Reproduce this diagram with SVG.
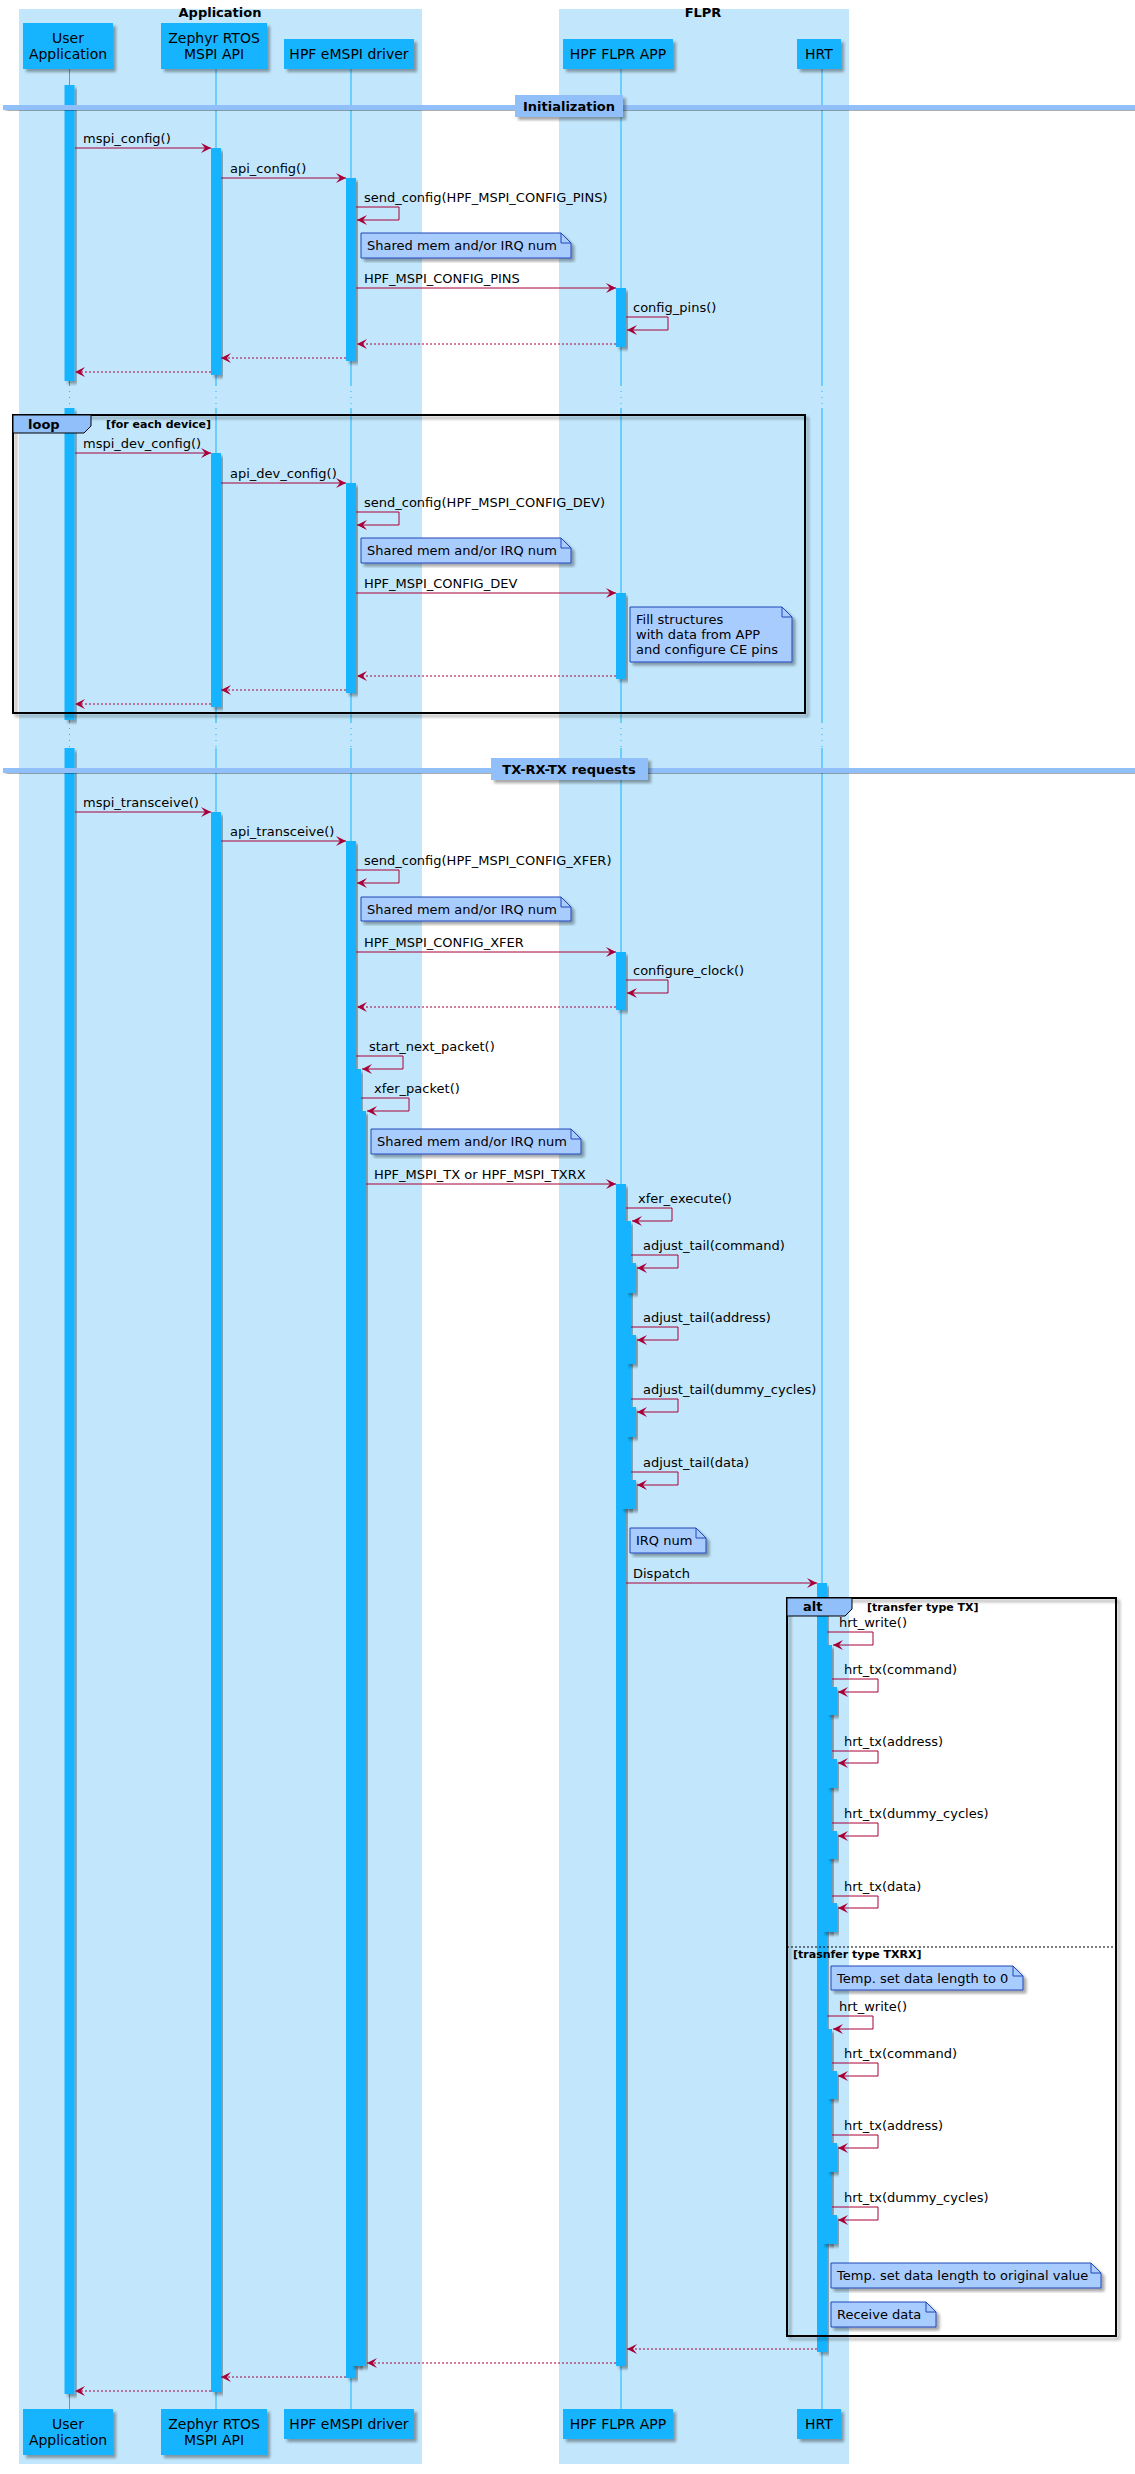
<svg xmlns="http://www.w3.org/2000/svg" width="1135" height="2474" viewBox="0 0 1135 2474">
<style>
text{font-family:"DejaVu Sans",sans-serif;font-size:13px;fill:#000}
.pt{font-size:14px;text-anchor:middle}
.bt{font-weight:bold;text-anchor:middle}
.g{font-size:11px;font-weight:bold}
.box{fill:#C2E7FC}
.part{fill:#13B4FF}
.act{fill:#13B4FF;filter:url(#sh)}
.ll{stroke:#13B4FF;stroke-width:1}
.lld{stroke:#13B4FF;stroke-width:1;stroke-dasharray:1,5}
.m{stroke:#A80036;stroke-width:1;fill:none;marker-end:url(#ah)}
.r{stroke:#A80036;stroke-width:1;fill:none;stroke-dasharray:2,2;marker-end:url(#ah)}
.note{fill:#A9CCFF;stroke:#2146B8;stroke-width:1;filter:url(#sh)}
.div{fill:#90BFF9}
.frame{fill:none;stroke:#000;stroke-width:2;filter:url(#sh)}
</style>
<defs>
<filter id="sh" x="-20%" y="-20%" width="140%" height="140%"><feDropShadow dx="3" dy="3" stdDeviation="1.5" flood-color="#000" flood-opacity="0.35"/></filter>
<marker id="ah" markerUnits="userSpaceOnUse" markerWidth="11" markerHeight="10" refX="10" refY="5" orient="auto"><path d="M0,0 L10,5 L0,10 L4,5 Z" fill="#A80036"/></marker>
</defs>
<rect width="1135" height="2474" fill="#fff"/>
<g id="box-application"><rect class="box" x="19" y="9" width="403" height="2455"/><text class="bt" x="220" y="17">Application</text></g>
<g id="box-flpr"><rect class="box" x="559" y="9" width="290" height="2455"/><text class="bt" x="703" y="17">FLPR</text></g>

<g id="lifelines">
<g id="ll-user"><line class="ll" x1="69.5" y1="69" x2="69.5" y2="385"/><line class="lld" x1="69.5" y1="385" x2="69.5" y2="408"/><line class="ll" x1="69.5" y1="408" x2="69.5" y2="722"/><line class="lld" x1="69.5" y1="722" x2="69.5" y2="748"/><line class="ll" x1="69.5" y1="748" x2="69.5" y2="2409"/></g>
<g id="ll-zephyr"><line class="ll" x1="216" y1="69" x2="216" y2="385"/><line class="lld" x1="216" y1="385" x2="216" y2="408"/><line class="ll" x1="216" y1="408" x2="216" y2="722"/><line class="lld" x1="216" y1="722" x2="216" y2="748"/><line class="ll" x1="216" y1="748" x2="216" y2="2409"/></g>
<g id="ll-driver"><line class="ll" x1="351" y1="69" x2="351" y2="385"/><line class="lld" x1="351" y1="385" x2="351" y2="408"/><line class="ll" x1="351" y1="408" x2="351" y2="722"/><line class="lld" x1="351" y1="722" x2="351" y2="748"/><line class="ll" x1="351" y1="748" x2="351" y2="2409"/></g>
<g id="ll-flpr"><line class="ll" x1="621" y1="69" x2="621" y2="385"/><line class="lld" x1="621" y1="385" x2="621" y2="408"/><line class="ll" x1="621" y1="408" x2="621" y2="722"/><line class="lld" x1="621" y1="722" x2="621" y2="748"/><line class="ll" x1="621" y1="748" x2="621" y2="2409"/></g>
<g id="ll-hrt"><line class="ll" x1="822" y1="69" x2="822" y2="385"/><line class="lld" x1="822" y1="385" x2="822" y2="408"/><line class="ll" x1="822" y1="408" x2="822" y2="722"/><line class="lld" x1="822" y1="722" x2="822" y2="748"/><line class="ll" x1="822" y1="748" x2="822" y2="2409"/></g>
</g>

<g id="user-application"><rect class="part" x="23" y="23" width="90" height="46" filter="url(#sh)"/><text class="pt" x="68" y="43">User</text><text class="pt" x="68" y="59">Application</text>
<rect class="part" x="23" y="2409" width="90" height="46" filter="url(#sh)"/><text class="pt" x="68" y="2429">User</text><text class="pt" x="68" y="2445">Application</text></g>
<g id="zephyr-mspi-api"><rect class="part" x="161" y="23" width="106" height="46" filter="url(#sh)"/><text class="pt" x="214" y="43">Zephyr RTOS</text><text class="pt" x="214" y="59">MSPI API</text>
<rect class="part" x="161" y="2409" width="106" height="46" filter="url(#sh)"/><text class="pt" x="214" y="2429">Zephyr RTOS</text><text class="pt" x="214" y="2445">MSPI API</text></g>
<g id="hpf-emspi-driver"><rect class="part" x="284" y="39" width="130" height="30" filter="url(#sh)"/><text class="pt" x="349" y="59">HPF eMSPI driver</text>
<rect class="part" x="284" y="2409" width="130" height="30" filter="url(#sh)"/><text class="pt" x="349" y="2429">HPF eMSPI driver</text></g>
<g id="hpf-flpr-app"><rect class="part" x="563" y="39" width="110" height="30" filter="url(#sh)"/><text class="pt" x="618" y="59">HPF FLPR APP</text>
<rect class="part" x="563" y="2409" width="110" height="30" filter="url(#sh)"/><text class="pt" x="618" y="2429">HPF FLPR APP</text></g>
<g id="hrt"><rect class="part" x="797" y="39" width="44" height="30" filter="url(#sh)"/><text class="pt" x="819" y="59">HRT</text>
<rect class="part" x="797" y="2409" width="44" height="30" filter="url(#sh)"/><text class="pt" x="819" y="2429">HRT</text></g>

<g id="activations">
<rect class="act" x="64.5" y="85" width="10" height="296"/>
<rect class="act" x="64.5" y="408" width="10" height="312"/>
<rect class="act" x="64.5" y="748" width="10" height="1646"/>
<rect class="act" x="211" y="148" width="10" height="227"/>
<rect class="act" x="211" y="453" width="10" height="254"/>
<rect class="act" x="211" y="812" width="10" height="1580"/>
<rect class="act" x="346" y="178" width="10" height="183"/>
<rect class="act" x="346" y="483" width="10" height="210"/>
<rect class="act" x="346" y="841" width="10" height="1537"/>
<rect class="act" x="351" y="1069" width="10" height="1297"/>
<rect class="act" x="356" y="1111" width="10" height="1255"/>
<rect class="act" x="616" y="288" width="10" height="59"/>
<rect class="act" x="616" y="593" width="10" height="86"/>
<rect class="act" x="616" y="952" width="10" height="58"/>
<rect class="act" x="616" y="1184" width="10" height="1182"/>
<rect class="act" x="621" y="1221" width="10" height="288"/>
<rect class="act" x="626" y="1263" width="10" height="30"/>
<rect class="act" x="626" y="1335" width="10" height="29"/>
<rect class="act" x="626" y="1407" width="10" height="30"/>
<rect class="act" x="626" y="1480" width="10" height="29"/>
<rect class="act" x="817" y="1583" width="10" height="769"/>
<rect class="act" x="822" y="1645" width="10" height="287"/>
<rect class="act" x="827" y="1687" width="10" height="28"/>
<rect class="act" x="827" y="1759" width="10" height="29"/>
<rect class="act" x="827" y="1831" width="10" height="28"/>
<rect class="act" x="827" y="1903" width="10" height="29"/>
<rect class="act" x="822" y="2029" width="10" height="215"/>
<rect class="act" x="827" y="2071" width="10" height="28"/>
<rect class="act" x="827" y="2143" width="10" height="29"/>
<rect class="act" x="827" y="2215" width="10" height="29"/>
</g>

<g id="divider-init"><rect class="div" x="3" y="105" width="1132" height="5" filter="url(#sh)"/><rect class="div" x="515" y="95" width="108" height="22" filter="url(#sh)"/><text x="569" y="111" class="bt">Initialization</text></g>
<g id="divider-tx"><rect class="div" x="3" y="768" width="1132" height="5" filter="url(#sh)"/><rect class="div" x="491" y="758" width="157" height="22" filter="url(#sh)"/><text x="569" y="774" class="bt">TX-RX-TX requests</text></g>

<g id="loop-frame"><rect class="frame" x="13" y="415" width="792" height="298"/><path d="M13,415 H91 V426 L84,433 H13 Z" fill="#90BFF9" stroke="#000" stroke-width="1"/><text x="28" y="429" style="font-weight:bold">loop</text><text class="g" x="106" y="428">[for each device]</text></g>
<g id="alt-frame"><rect class="frame" x="787" y="1598" width="329" height="738"/><path d="M787,1598 H852 V1609 L845,1616 H787 Z" fill="#90BFF9" stroke="#000" stroke-width="1"/><text x="803" y="1611" style="font-weight:bold">alt</text><text class="g" x="867" y="1611">[transfer type TX]</text>
<line x1="787" y1="1947" x2="1116" y2="1947" stroke="#000" stroke-width="1" stroke-dasharray="2,2"/><text class="g" x="793" y="1958">[trasnfer type TXRX]</text></g>

<g id="notes">
<g id="note1"><path class="note" d="M361,233 H561 L571,243 V258 H361 Z"/><path d="M561,233 V243 H571" fill="none" stroke="#2146B8"/><text x="367" y="250">Shared mem and/or IRQ num</text></g>
<g id="note2"><path class="note" d="M361,538 H561 L571,548 V563 H361 Z"/><path d="M561,538 V548 H571" fill="none" stroke="#2146B8"/><text x="367" y="555">Shared mem and/or IRQ num</text></g>
<g id="note3"><path class="note" d="M630,607 H782 L792,617 V662 H630 Z"/><path d="M782,607 V617 H792" fill="none" stroke="#2146B8"/><text x="636" y="624">Fill structures</text><text x="636" y="639">with data from APP</text><text x="636" y="654">and configure CE pins</text></g>
<g id="note4"><path class="note" d="M361,897 H561 L571,907 V921 H361 Z"/><path d="M561,897 V907 H571" fill="none" stroke="#2146B8"/><text x="367" y="914">Shared mem and/or IRQ num</text></g>
<g id="note5"><path class="note" d="M371,1129 H571 L581,1139 V1154 H371 Z"/><path d="M571,1129 V1139 H581" fill="none" stroke="#2146B8"/><text x="377" y="1146">Shared mem and/or IRQ num</text></g>
<g id="note6"><path class="note" d="M630,1528 H696 L706,1538 V1553 H630 Z"/><path d="M696,1528 V1538 H706" fill="none" stroke="#2146B8"/><text x="636" y="1545">IRQ num</text></g>
<g id="note7"><path class="note" d="M831,1966 H1013 L1023,1976 V1990 H831 Z"/><path d="M1013,1966 V1976 H1023" fill="none" stroke="#2146B8"/><text x="837" y="1983">Temp. set data length to 0</text></g>
<g id="note8"><path class="note" d="M831,2263 H1091 L1101,2273 V2288 H831 Z"/><path d="M1091,2263 V2273 H1101" fill="none" stroke="#2146B8"/><text x="837" y="2280">Temp. set data length to original value</text></g>
<g id="note9"><path class="note" d="M831,2302 H926 L936,2312 V2327 H831 Z"/><path d="M926,2302 V2312 H936" fill="none" stroke="#2146B8"/><text x="837" y="2319">Receive data</text></g>
</g>

<g id="connectors">
<path class="m" d="M75,148 H211"/><text x="83" y="143">mspi_config()</text>
<path class="m" d="M221,178 H346"/><text x="230" y="173">api_config()</text>
<path class="m" d="M356,207 H399 V220 H357"/><text x="364" y="202">send_config(HPF_MSPI_CONFIG_PINS)</text>
<path class="m" d="M356,288 H616"/><text x="364" y="283">HPF_MSPI_CONFIG_PINS</text>
<path class="m" d="M626,317 H668 V330 H627"/><text x="633" y="312">config_pins()</text>
<path class="r" d="M616,344 H357"/>
<path class="r" d="M346,358 H221"/>
<path class="r" d="M211,372 H75"/>

<path class="m" d="M75,453 H211"/><text x="83" y="448">mspi_dev_config()</text>
<path class="m" d="M221,483 H346"/><text x="230" y="478">api_dev_config()</text>
<path class="m" d="M356,512 H399 V525 H357"/><text x="364" y="507">send_config(HPF_MSPI_CONFIG_DEV)</text>
<path class="m" d="M356,593 H616"/><text x="364" y="588">HPF_MSPI_CONFIG_DEV</text>
<path class="r" d="M616,676 H357"/>
<path class="r" d="M346,690 H221"/>
<path class="r" d="M211,704 H75"/>

<path class="m" d="M75,812 H211"/><text x="83" y="807">mspi_transceive()</text>
<path class="m" d="M221,841 H346"/><text x="230" y="836">api_transceive()</text>
<path class="m" d="M356,870 H399 V883 H357"/><text x="364" y="865">send_config(HPF_MSPI_CONFIG_XFER)</text>
<path class="m" d="M356,952 H616"/><text x="364" y="947">HPF_MSPI_CONFIG_XFER</text>
<path class="m" d="M626,980 H668 V993 H627"/><text x="633" y="975">configure_clock()</text>
<path class="r" d="M616,1007 H357"/>
<path class="m" d="M356,1056 H403 V1069 H362"/><text x="369" y="1051">start_next_packet()</text>
<path class="m" d="M361,1098 H409 V1111 H367"/><text x="374" y="1093">xfer_packet()</text>
<path class="m" d="M366,1184 H616"/><text x="374" y="1179">HPF_MSPI_TX or HPF_MSPI_TXRX</text>
<path class="m" d="M626,1208 H672 V1221 H632"/><text x="638" y="1203">xfer_execute()</text>
<path class="m" d="M631,1255 H678 V1268 H637"/><text x="643" y="1250">adjust_tail(command)</text>
<path class="m" d="M631,1327 H678 V1340 H637"/><text x="643" y="1322">adjust_tail(address)</text>
<path class="m" d="M631,1399 H678 V1412 H637"/><text x="643" y="1394">adjust_tail(dummy_cycles)</text>
<path class="m" d="M631,1472 H678 V1485 H637"/><text x="643" y="1467">adjust_tail(data)</text>
<path class="m" d="M626,1583 H817"/><text x="633" y="1578">Dispatch</text>
<path class="m" d="M827,1632 H873 V1645 H833"/><text x="839" y="1627">hrt_write()</text>
<path class="m" d="M832,1679 H878 V1692 H838"/><text x="844" y="1674">hrt_tx(command)</text>
<path class="m" d="M832,1751 H878 V1763 H838"/><text x="844" y="1746">hrt_tx(address)</text>
<path class="m" d="M832,1823 H878 V1836 H838"/><text x="844" y="1818">hrt_tx(dummy_cycles)</text>
<path class="m" d="M832,1896 H878 V1908 H838"/><text x="844" y="1891">hrt_tx(data)</text>
<path class="m" d="M827,2016 H873 V2029 H833"/><text x="839" y="2011">hrt_write()</text>
<path class="m" d="M832,2063 H878 V2076 H838"/><text x="844" y="2058">hrt_tx(command)</text>
<path class="m" d="M832,2135 H878 V2148 H838"/><text x="844" y="2130">hrt_tx(address)</text>
<path class="m" d="M832,2207 H878 V2220 H838"/><text x="844" y="2202">hrt_tx(dummy_cycles)</text>
<path class="r" d="M817,2349 H627"/>
<path class="r" d="M616,2363 H367"/>
<path class="r" d="M346,2377 H221"/>
<path class="r" d="M211,2391 H75"/>
</g>
</svg>
